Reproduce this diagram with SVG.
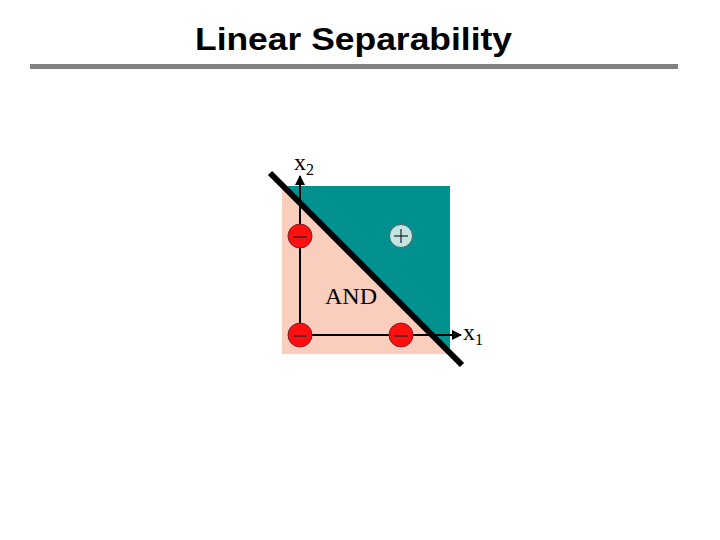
<svg xmlns="http://www.w3.org/2000/svg" width="720" height="540" viewBox="0 0 720 540">
<defs>
<style>
.lbl{font-family:"Liberation Serif","Times New Roman",serif;font-size:24px;fill:#000}
.sub{font-size:16px}
.neg{fill:#ff1010;stroke:#802020;stroke-width:1}
.pos{fill:#c4e4e4;stroke:#506060;stroke-width:1}
.sign{stroke:#222;stroke-width:1.2}
.axis{stroke:#000;stroke-width:2;fill:none}
</style>
<marker id="arr" viewBox="0 0 10 10" refX="9" refY="5" markerWidth="5" markerHeight="5" orient="auto" markerUnits="strokeWidth"><path d="M0,0 L10,5 L0,10 z" fill="#000"/></marker>
</defs>
<rect width="720" height="540" fill="#fff"/>
<text x="195" y="50" textLength="317" lengthAdjust="spacingAndGlyphs" font-family="Liberation Sans,Arial,sans-serif" font-weight="bold" font-size="32" fill="#000">Linear Separability</text>
<rect x="30" y="64" width="648" height="5" fill="#808080"/>
<g id="regions">
<rect x="282" y="186" width="168" height="168" fill="#fbcdbd"/>
<polygon points="283,186 450,186 450,353" fill="#009090"/>
</g>
<g id="connectors">
<line class="axis" x1="300" y1="335" x2="300" y2="176" marker-end="url(#arr)"/>
<line class="axis" x1="300" y1="335" x2="461" y2="335" marker-end="url(#arr)"/>
<line x1="270" y1="173" x2="462" y2="365" stroke="#000" stroke-width="6"/>
</g>
<g id="p01"><circle class="neg" cx="300" cy="236" r="12"/><line class="sign" x1="293" y1="237" x2="307" y2="237"/></g>
<g id="p00"><circle class="neg" cx="300" cy="335" r="12"/><line class="sign" x1="293" y1="336" x2="307" y2="336"/></g>
<g id="p10"><circle class="neg" cx="401" cy="335" r="12"/><line class="sign" x1="394" y1="336" x2="408" y2="336"/></g>
<g id="p11"><circle class="pos" cx="401" cy="236" r="11.5"/><line class="sign" x1="394" y1="236" x2="408" y2="236"/><line class="sign" x1="401" y1="229" x2="401" y2="243"/></g>
<g id="labels">
<text class="lbl" x="294" y="170">x<tspan class="sub" dy="5">2</tspan></text>
<text class="lbl" x="463" y="340">x<tspan class="sub" dy="5">1</tspan></text>
<text class="lbl" x="325" y="304">AND</text>
</g>
</svg>
